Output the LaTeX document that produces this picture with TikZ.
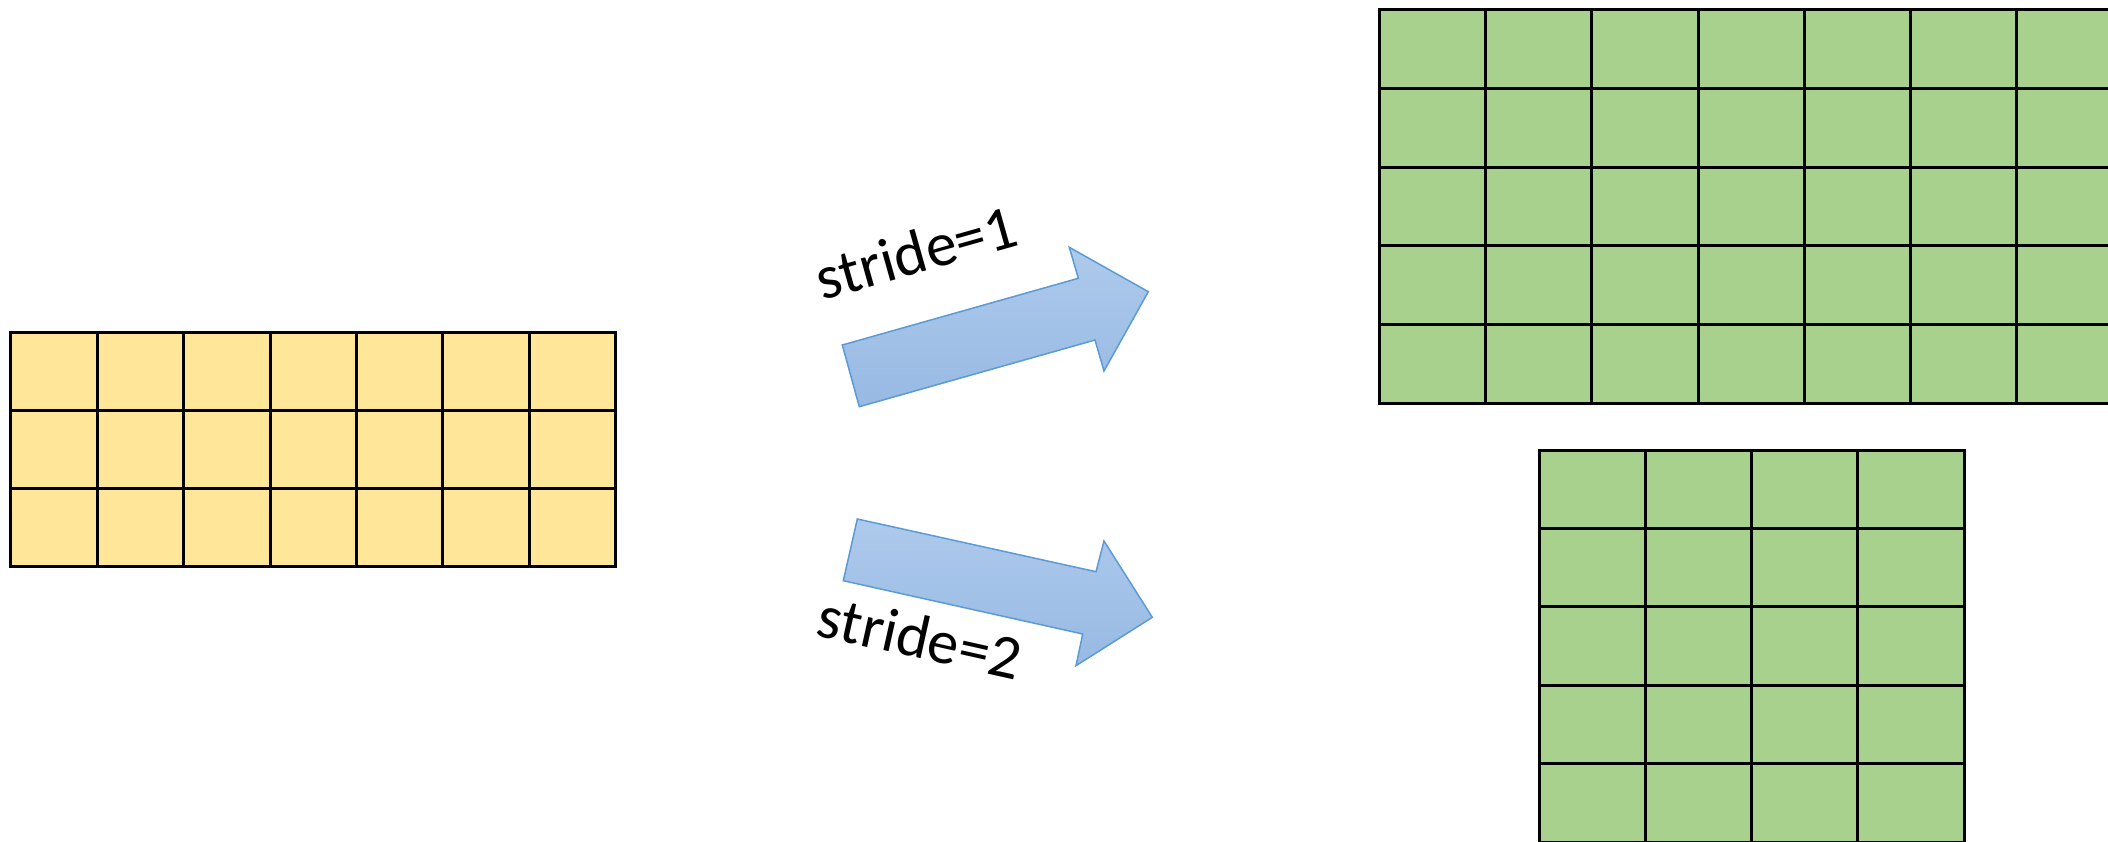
\documentclass[tikz,border=0pt]{standalone}
\usepackage{fontspec}
\setmainfont{Carlito}
\definecolor{inputfill}{HTML}{FFE699}
\definecolor{outputfill}{HTML}{A9D18E}
\definecolor{arrowedge}{HTML}{5B9BD5}
\definecolor{arrowlight}{HTML}{AECAEC}
\definecolor{arrowdark}{HTML}{97B9E3}
\begin{document}
\begin{tikzpicture}[x=1pt,y=-1pt,
  gridline/.style={line width=3pt,draw=black},
  frameline/.style={line width=3pt,draw=black,line join=miter},
  blockarrow/.style={draw=arrowedge,line width=1.5pt,line join=miter,
    top color=arrowlight,bottom color=arrowdark},
  steplabel/.style={font=\fontsize{62}{66}\selectfont,inner sep=0pt,text=black}]
\useasboundingbox (0,0) rectangle (2108,842);
\begin{scope}
\clip (0,0) rectangle (2108,842);

% input map: 7 x 3 cells
\fill[inputfill] (10.75,332.7) rectangle (615.7,566.7);
\foreach \i in {1,...,6} \draw[gridline] ({10.75+\i*86.42},332.7) -- ++(0,234);
\foreach \j in {1,2} \draw[gridline] (10.75,{332.7+\j*78}) -- ++(604.95,0);
\draw[frameline] (10.75,332.7) rectangle (615.7,566.7);

% output map, stride 1: 8 x 5 cells, running past the right edge
\fill[outputfill] (1379.4,10) rectangle (2229,403);
\foreach \i in {1,...,7} \draw[gridline] ({1379.4+\i*106.2},10) -- ++(0,393);
\foreach \j in {1,...,4} \draw[gridline] (1379.4,{10+\j*78.6}) -- ++(849.6,0);
\draw[frameline] (1379.4,10) rectangle (2229,403);

% output map, stride 2: 4 x 5 cells
\fill[outputfill] (1539.3,450) rectangle (1964.1,842);
\foreach \i in {1,...,3} \draw[gridline] ({1539.3+\i*106.2},450) -- ++(0,392);
\foreach \j in {1,...,4} \draw[gridline] (1539.3,{450+\j*78.4}) -- ++(424.8,0);
\draw[frameline] (1539.3,450) rectangle (1964.1,842);
\end{scope}

% block arrows
\path[blockarrow] (842.3,345) -- (1078.3,278.3) -- (1069.3,247.3) -- (1148.3,291.7)
  -- (1104,371) -- (1095,340) -- (859.3,406.7) -- cycle;
\path[blockarrow] (857.3,519) -- (1096,571.7) -- (1104,541) -- (1152.3,617.3)
  -- (1076,665.7) -- (1082.7,634) -- (843.3,580.7) -- cycle;

% labels
\node[steplabel,rotate=15.8] (s1) at (916,252) {stride=1};
\node[steplabel,rotate=-12.6] (s2) at (920,637) {stride=2};
\end{tikzpicture}
\end{document}
